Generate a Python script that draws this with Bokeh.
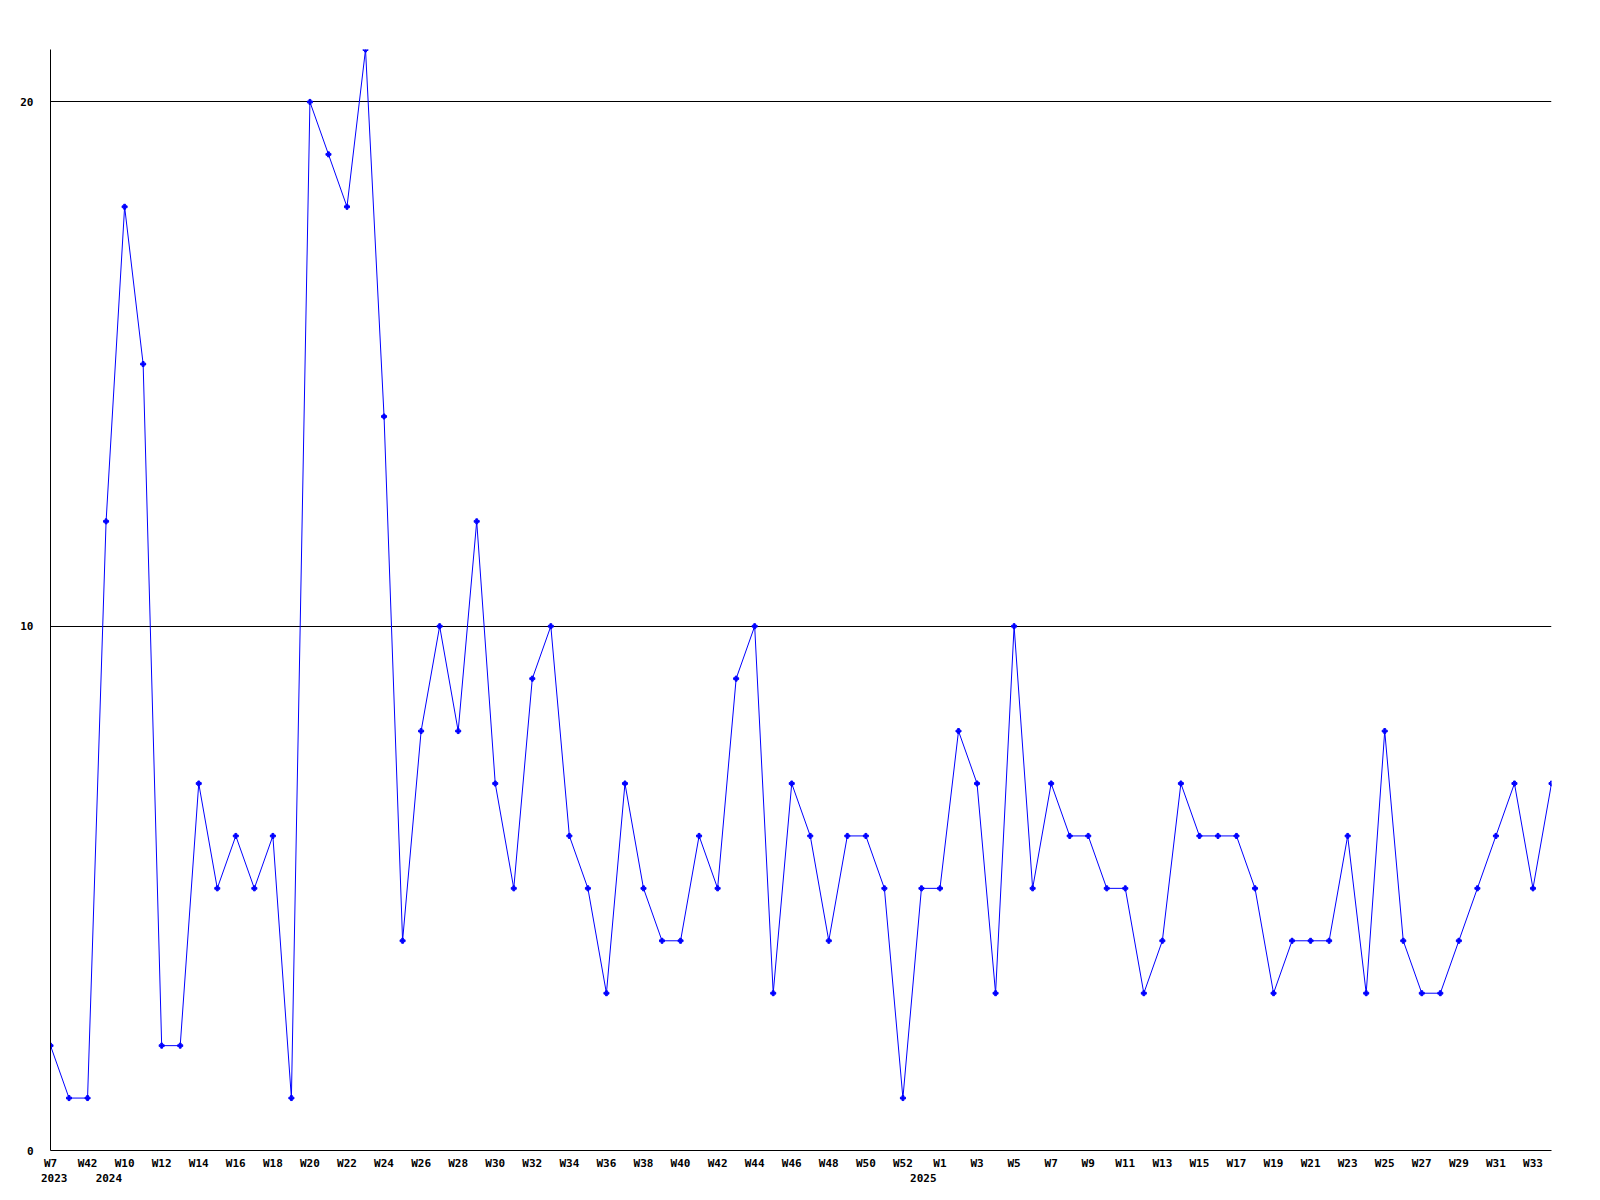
from bokeh.plotting import figure
from bokeh.models import Range1d, FixedTicker, LinearAxis, ColumnDataSource
from bokeh.embed import file_html
from bokeh.resources import INLINE

# ---- data ----
weeks = (["W7", "W41", "W42", "W9"]
         + ["W%d" % i for i in range(10, 53)]
         + ["W53"]
         + ["W%d" % i for i in range(1, 35)])
values = [2, 1, 1, 12, 18, 15, 2, 2, 7, 5, 6, 5, 6, 1, 20, 19, 18, 21, 14, 4,
          8, 10, 8, 12, 7, 5, 9, 10, 6, 5, 3, 7, 5, 4, 4, 6, 5, 9, 10, 3,
          7, 6, 4, 6, 6, 5, 1, 5, 5, 8, 7, 3, 10, 5, 7, 6, 6, 5, 5, 3,
          4, 7, 6, 6, 6, 5, 3, 4, 4, 4, 6, 3, 8, 4, 3, 3, 4, 5, 6, 7,
          5, 7]
years = ["2023", "2024", "2025"]
year_pos = [0.2, 3.15, 47.1]
y_ticks = [0, 10, 20]

n = len(values)
src = ColumnDataSource(dict(x=list(range(n)), y=values))

FONT = "DejaVu Sans Mono"

p = figure(frame_width=1501, frame_height=1101,
           x_range=Range1d(0, n - 1), y_range=Range1d(0, 21),
           output_backend="svg", toolbar_location=None,
           min_border_left=50, min_border_top=49,
           min_border_right=20, min_border_bottom=5,
           background_fill_color="white", border_fill_color="white")
p.outline_line_color = None

p.line("x", "y", source=src, color="#0000ff", line_width=1)
p.scatter("x", "y", source=src, marker="plus", size=5, color="#0000ff")

def style_axis(ax):
    ax.major_tick_in = 0
    ax.major_tick_out = 0
    ax.minor_tick_in = 0
    ax.minor_tick_out = 0
    ax.major_label_text_font = FONT
    ax.major_label_text_font_style = "bold"
    ax.major_label_text_font_size = "11px"
    ax.major_label_text_color = "black"
    ax.axis_line_color = "black"
    ax.axis_line_width = 1

xa = p.xaxis[0]
xa.ticker = FixedTicker(ticks=list(range(0, n, 2)))
xa.major_label_overrides = {i: weeks[i] for i in range(0, n, 2)}
style_axis(xa)
xa.major_label_standoff = 6

ya = p.yaxis[0]
ya.ticker = FixedTicker(ticks=y_ticks)
style_axis(ya)
ya.major_label_standoff = 17

yax = LinearAxis(ticker=FixedTicker(ticks=year_pos),
                 major_label_overrides={pos: yr for pos, yr in zip(year_pos, years)})
style_axis(yax)
yax.axis_line_color = None
yax.major_label_standoff = 1
p.add_layout(yax, "below")

p.xgrid.visible = False
p.ygrid.ticker = FixedTicker(ticks=[10, 20])
p.ygrid.grid_line_color = "black"
p.ygrid.grid_line_width = 1
p.ygrid.grid_line_alpha = 1.0

open("out.html", "w").write(file_html(p, INLINE))
